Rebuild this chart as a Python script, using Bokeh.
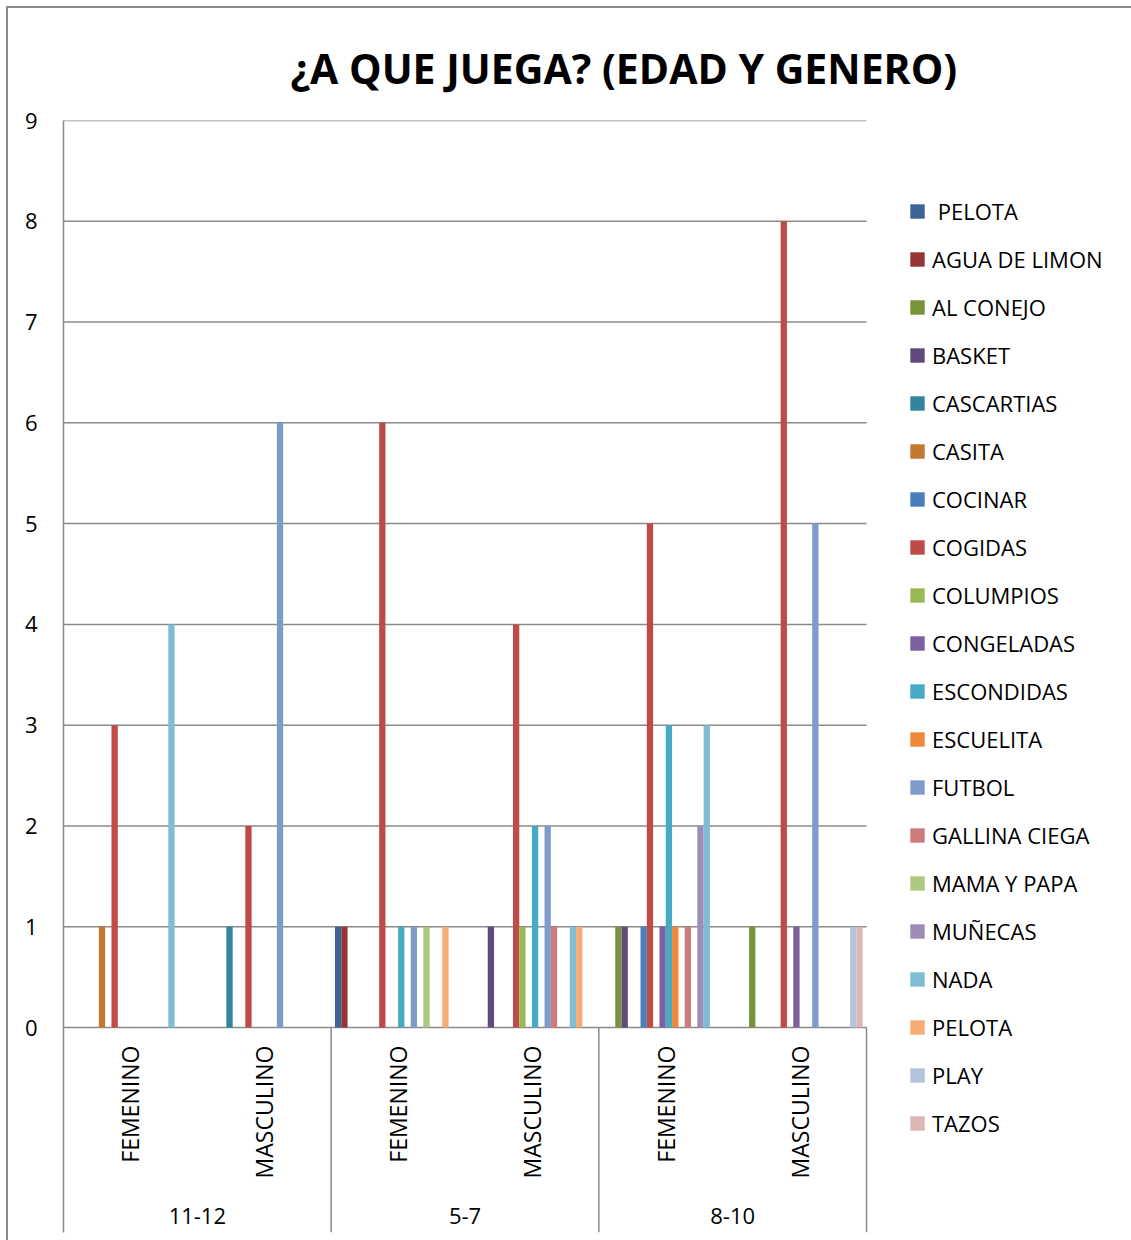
from bokeh.plotting import figure
from bokeh.models import Range1d, FixedTicker, Legend, LegendItem, ColumnDataSource
from bokeh.core.properties import value
from bokeh.embed import file_html
from bokeh.resources import INLINE

# ---- data ----
title_text = "¿A QUE JUEGA? (EDAD Y GENERO)"
age_groups = ["11-12", "5-7", "8-10"]
genders = ["FEMENINO", "MASCULINO"]
y_ticks = [0, 1, 2, 3, 4, 5, 6, 7, 8, 9]

# values per category: 11-12 F, 11-12 M, 5-7 F, 5-7 M, 8-10 F, 8-10 M
pelota_a = [0, 0, 1, 0, 0, 0]
agua_de_limon = [0, 0, 1, 0, 0, 0]
al_conejo = [0, 0, 0, 0, 1, 1]
basket = [0, 0, 0, 1, 1, 0]
cascartias = [0, 1, 0, 0, 0, 0]
casita = [1, 0, 0, 0, 0, 0]
cocinar = [0, 0, 0, 0, 1, 0]
cogidas = [3, 2, 6, 4, 5, 8]
columpios = [0, 0, 0, 1, 0, 0]
congeladas = [0, 0, 0, 0, 1, 1]
escondidas = [0, 0, 1, 2, 3, 0]
escuelita = [0, 0, 0, 0, 1, 0]
futbol = [0, 6, 1, 2, 0, 5]
gallina_ciega = [0, 0, 0, 1, 1, 0]
mama_y_papa = [0, 0, 1, 0, 0, 0]
munecas = [0, 0, 0, 0, 2, 0]
nada = [4, 0, 0, 1, 3, 0]
pelota_b = [0, 0, 1, 1, 0, 0]
play = [0, 0, 0, 0, 0, 1]
tazos = [0, 0, 0, 0, 0, 1]

series_names = [" PELOTA", "AGUA DE LIMON", "AL CONEJO", "BASKET", "CASCARTIAS",
                "CASITA", "COCINAR", "COGIDAS", "COLUMPIOS", "CONGELADAS",
                "ESCONDIDAS", "ESCUELITA", "FUTBOL", "GALLINA CIEGA", "MAMA Y PAPA",
                "MUÑECAS", "NADA", "PELOTA", "PLAY", "TAZOS"]
series_values = [pelota_a, agua_de_limon, al_conejo, basket, cascartias, casita,
                 cocinar, cogidas, columpios, congeladas, escondidas, escuelita,
                 futbol, gallina_ciega, mama_y_papa, munecas, nada, pelota_b,
                 play, tazos]
series_colors = ["#3c6497", "#963634", "#77933c", "#604a7b", "#31859c", "#c4772f",
                 "#4a7ebb", "#be4b48", "#98b954", "#7d60a0", "#46aac5", "#f0883a",
                 "#7e9ccb", "#cc7c7a", "#adc87f", "#9e8cb6", "#7ebdd2", "#f9ab76",
                 "#b4c3dc", "#dfb6b6"]

FONT = "Open Sans"
GRID = "#8a8a8a"

# ---- layout constants ----
W, H = 1131, 1240
LEFT, TOP, BOTTOM = 63, 120, 8
PLOT_RIGHT = 866            # right end of the bar area (px)
n_cat = len(age_groups) * len(genders)
n_ser = len(series_names)
bw = 1.0 / (n_ser + 1.2)
y_bottom = -2.034
x_end = n_cat * (W - LEFT) / (PLOT_RIGHT - LEFT)

p = figure(width=W, height=H, output_backend="svg", toolbar_location=None,
           x_range=Range1d(0, x_end), y_range=Range1d(y_bottom, 9),
           x_axis_location=None, min_border_left=LEFT, min_border_right=0,
           min_border_top=TOP, min_border_bottom=BOTTOM)
p.outline_line_color = None
p.background_fill_color = "white"
p.border_fill_alpha = 0
p.styles = {"box-shadow": "inset 6px 6px 0 0 white, inset 8px 8px 0 0 #8a8a8a",
            "background-color": "white"}

p.title.text = title_text
p.title.text_font = FONT
p.title.text_font_size = "41px"
p.title.text_font_style = "bold"
p.title.text_color = "black"
p.title.align = "left"
p.title.offset = 227
p.title.standoff = 50

p.xgrid.grid_line_color = None
p.ygrid.grid_line_color = None

ax = p.yaxis[0]
ax.ticker = FixedTicker(ticks=y_ticks)
ax.axis_line_color = GRID
ax.axis_line_width = 1.5
ax.major_tick_line_color = None
ax.minor_tick_line_color = None
ax.major_label_text_font = FONT
ax.major_label_text_font_size = "22px"
ax.major_label_text_color = "black"
ax.major_label_standoff = 20

# horizontal gridlines, limited to the category area
p.segment(x0=[0] * len(y_ticks), y0=y_ticks, x1=[n_cat] * len(y_ticks), y1=y_ticks,
          line_color=GRID, line_width=1.5)

items = []
for i, (name, vals, col) in enumerate(zip(series_names, series_values, series_colors)):
    xs = [c + 0.5 + (i - (n_ser - 1) / 2) * bw for c in range(n_cat) if vals[c] > 0]
    tops = [v for v in vals if v > 0]
    src = ColumnDataSource(dict(x=xs, top=tops))
    r = p.vbar(x="x", top="top", bottom=0, width=bw, source=src,
               fill_color=col, line_color=None)
    items.append(LegendItem(label=name, renderers=[r]))

# category separators and labels
sep_x = [2 * g for g in range(len(age_groups) + 1)][1:]
p.segment(x0=sep_x, y0=[0] * len(sep_x), x1=sep_x, y1=[y_bottom] * len(sep_x),
          line_color=GRID, line_width=1.5)

g_x = [c + 0.5 for c in range(n_cat)]
g_txt = [genders[c % 2] for c in range(n_cat)]
p.text(x=g_x, y=[-0.18] * n_cat, text=g_txt, angle=1.5708,
       text_align="right", text_baseline="middle",
       text_font=value(FONT), text_font_size="23px", text_color="black")

a_x = [2 * g + 1 for g in range(len(age_groups))]
p.text(x=a_x, y=[-1.875] * len(age_groups), text=age_groups,
       text_align="center", text_baseline="middle",
       text_font=value(FONT), text_font_size="22px", text_color="black")

legend = Legend(items=items, location=(845, 94), padding=0, margin=0,
                border_line_color=None, background_fill_alpha=0,
                label_text_font=FONT, label_text_font_size="22px",
                label_text_color="black", glyph_width=18, glyph_height=18,
                label_height=20, spacing=18, label_standoff=6)
p.add_layout(legend)

open("out.html", "w").write(file_html(p, INLINE))
